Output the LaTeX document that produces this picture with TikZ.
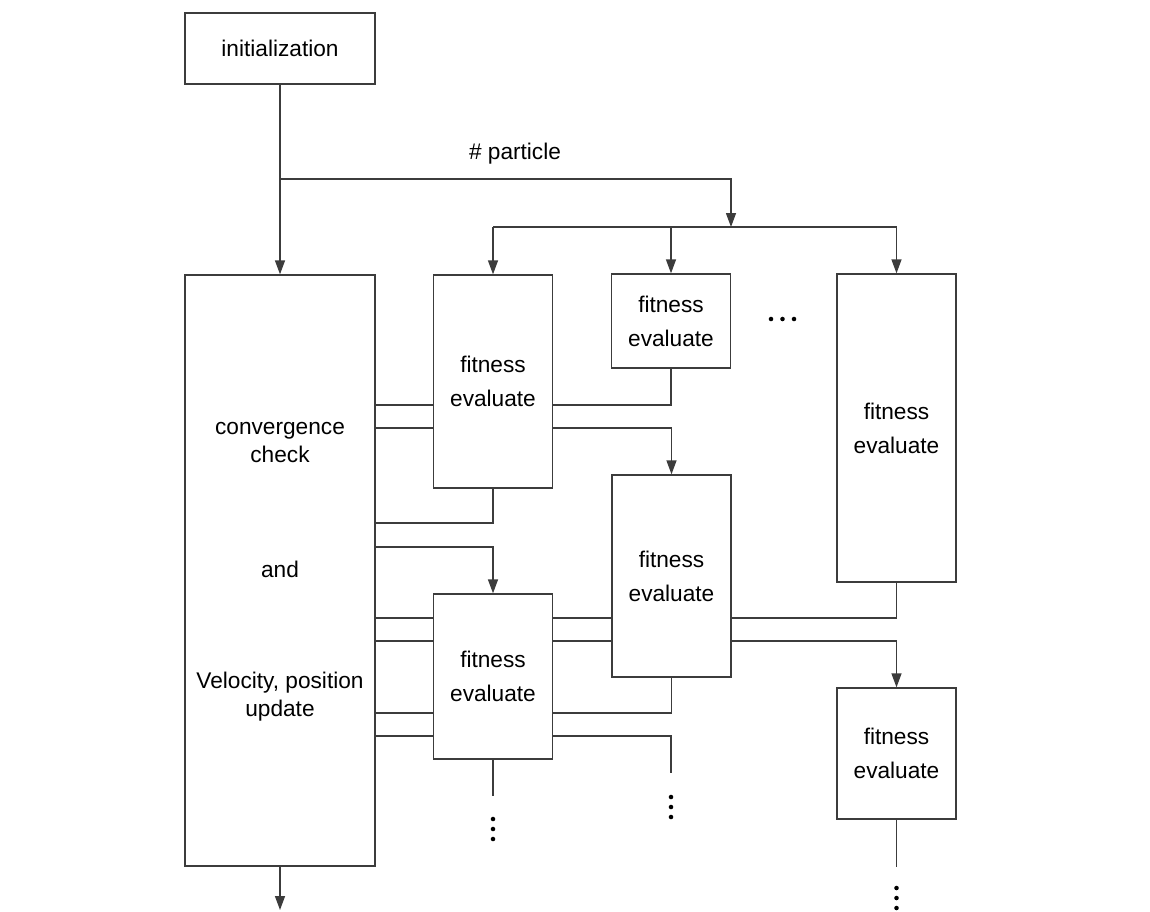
\documentclass[tikz,border=0pt]{standalone}
\usepackage{fontspec}
\setmainfont{Liberation Sans}
\usepackage{tikz}
\usetikzlibrary{arrows.meta}

\definecolor{linegray}{HTML}{3C3C3C}

\tikzset{
	blk/.style={draw=linegray, line width=1pt, inner sep=0pt, align=center},
	evalbox/.style={blk, minimum width=89.25pt, font=\fontsize{17}{25.5}\selectfont},
	lbl/.style={align=center, inner sep=0pt, font=\fontsize{17}{21}\selectfont},
	wire/.style={draw=linegray, line width=1pt},
	arr/.style={wire, -{Triangle[length=10.5pt,width=7.5pt]}}
}

\begin{document}
\begin{tikzpicture}[x=0.75pt,y=-0.75pt]
		\useasboundingbox (0,0) rectangle (1150,911);

		\node[blk, minimum width=142.5pt, minimum height=53.25pt, font=\fontsize{17}{21}\selectfont] (init) at (280,48.5) {initialization};
		\node[blk, minimum width=142.5pt, minimum height=443.25pt] (loop) at (280,570.5) {};
		\node[lbl] (conv) at (280,443) {convergence\\check};
		\node[lbl] (and) at (280,569) {and};
		\node[lbl] (upd) at (280,697) {Velocity, position\\update};

		\node[evalbox, minimum height=159.75pt] (eval1) at (493,381.5) {fitness\\evaluate};
		\node[evalbox, minimum height=70.5pt] (eval2) at (671,321) {fitness\\evaluate};
		\node[evalbox, minimum height=231pt] (eval3) at (896.5,428) {fitness\\evaluate};
		\node[evalbox, minimum height=151.5pt] (eval4) at (671.5,576) {fitness\\evaluate};
		\node[evalbox, minimum height=123.75pt] (eval5) at (493,676.5) {fitness\\evaluate};
		\node[evalbox, minimum height=98.25pt] (eval6) at (896.5,753.5) {fitness\\evaluate};

		\node[lbl] (npart) at (515,154) {\# particle};

		\coordinate (split) at (280,179);
		\coordinate (bus) at (731,227);
		\coordinate (open1) at (493,796);
		\coordinate (open2) at (671,773);
		\coordinate (open3) at (896.5,867);
		\coordinate (exit) at (280,910);

		% broadcast of the particles
		\draw[arr] (init.south) -- (loop.north);
		\draw[arr] (split) -| (bus);
		\draw[wire] (eval1.north |- bus) -- (eval3.north |- bus);
		\foreach \b in {eval1,eval2,eval3}
			\draw[arr] (\b.north |- bus) -- (\b.north);

		% first row
		\foreach \y in {405,428}
			\draw[wire] (loop.east |- 0,\y) -- (eval1.west |- 0,\y);
		\draw[wire] (eval1.east |- 0,405) -| (eval2.south);
		\draw[arr] (eval1.east |- 0,428) -| (eval4.north);
		\draw[wire] (eval1.south) |- (loop.east |- 0,523);
		\draw[arr] (loop.east |- 0,547) -| (eval5.north);

		% second row
		\foreach \y in {618,641,713,736}
			\draw[wire] (loop.east |- 0,\y) -- (eval5.west |- 0,\y);
		\foreach \y in {618,641}
			\draw[wire] (eval5.east |- 0,\y) -- (eval4.west |- 0,\y);
		\draw[wire] (eval4.east |- 0,618) -| (eval3.south);
		\draw[arr] (eval4.east |- 0,641) -| (eval6.north);
		\draw[wire] (eval5.east |- 0,713) -| (eval4.south);
		\draw[wire] (eval5.east |- 0,736) -| (open2);
		\draw[wire] (eval5.south) -- (open1);
		\draw[wire] (eval6.south) -- (open3);
		\draw[arr] (loop.south) -- (exit);

		% dots
		\foreach \d in {0,10,20} {
			\fill (493,819+\d) circle (1.7pt);
			\fill (671,797+\d) circle (1.7pt);
			\fill (896.5,888+\d) circle (1.7pt);
		}
		\foreach \d in {0,11.5,23}
			\fill (771+\d,319) circle (1.7pt);
	\end{tikzpicture}
\end{document}
